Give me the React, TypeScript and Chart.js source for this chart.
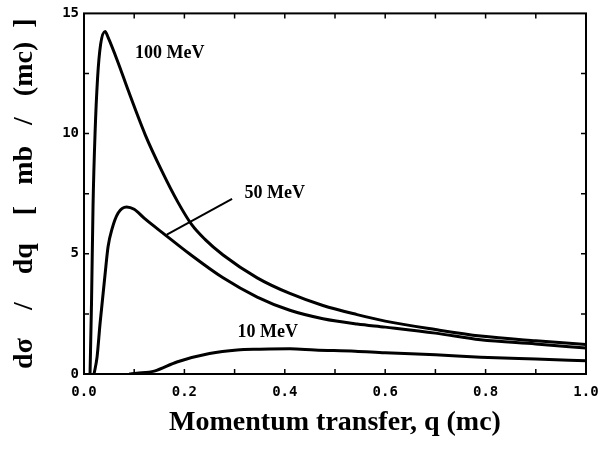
import React, { useEffect, useRef } from "react";
import { Chart, registerables } from "chart.js";

Chart.register(...registerables);

const q100 = [0.012, 0.015, 0.018, 0.022, 0.027, 0.033, 0.042, 0.048, 0.068, 0.088, 0.122, 0.155, 0.187, 0.215, 0.241, 0.277, 0.345, 0.41, 0.476, 0.544, 0.6, 0.7, 0.79, 0.9, 1.0];
const v100 = [0, 3, 7, 10, 12.3, 13.7, 14.25, 14.0, 12.95, 11.8, 9.95, 8.45, 7.15, 6.2, 5.6, 4.95, 4.0, 3.35, 2.85, 2.47, 2.2, 1.85, 1.58, 1.38, 1.23];

const q50 = [0.02, 0.026, 0.032, 0.042, 0.048, 0.056, 0.068, 0.085, 0.1, 0.121, 0.161, 0.21, 0.277, 0.345, 0.41, 0.476, 0.544, 0.6, 0.7, 0.79, 0.9, 1.0];
const v50 = [0, 0.7, 2.1, 4.15, 5.3, 6.05, 6.7, 6.95, 6.85, 6.46, 5.8, 5.0, 4.0, 3.2, 2.65, 2.3, 2.08, 1.95, 1.7, 1.42, 1.25, 1.08];

const q10 = [0.09, 0.105, 0.14, 0.185, 0.25, 0.305, 0.35, 0.41, 0.46, 0.54, 0.6, 0.7, 0.79, 0.9, 1.0];
const v10 = [0, 0.03, 0.12, 0.5, 0.85, 1.0, 1.03, 1.05, 1.0, 0.95, 0.88, 0.8, 0.7, 0.62, 0.55];

const seriesNames = ["100 MeV", "50 MeV", "10 MeV"];
const labelQ = [0.171, 0.38, 0.366];
const labelV = [13.33, 7.53, 1.73];
const leaderQ = [0.165, 0.295];
const leaderV = [5.8, 7.28];

const xMinorTicks = [0.1, 0.2, 0.3, 0.4, 0.5, 0.6, 0.7, 0.8, 0.9];
const yMinorTicks = [2.5, 5, 7.5, 10, 12.5];

const xTitle = "Momentum transfer, q (mc)";
const yTitle = "dσ    /    dq    [   mb   /   (mc)  ]";

const toPts = (xs: number[], ys: number[]) => xs.map((x, i) => ({ x, y: ys[i] }));

const decorPlugin = {
  id: "decor",
  afterDraw(chart: any) {
    const { ctx, chartArea, scales } = chart;
    const { left, right, top, bottom } = chartArea;
    const x = scales.x;
    const y = scales.y;
    ctx.save();
    ctx.strokeStyle = "#000";
    ctx.lineWidth = 2;
    ctx.strokeRect(left, top, right - left, bottom - top);
    ctx.lineWidth = 1.5;
    ctx.beginPath();
    xMinorTicks.forEach((t) => {
      const px = x.getPixelForValue(t);
      ctx.moveTo(px, bottom);
      ctx.lineTo(px, bottom - 5);
      ctx.moveTo(px, top);
      ctx.lineTo(px, top + 5);
    });
    yMinorTicks.forEach((t) => {
      const py = y.getPixelForValue(t);
      ctx.moveTo(left, py);
      ctx.lineTo(left + 5, py);
      ctx.moveTo(right, py);
      ctx.lineTo(right - 5, py);
    });
    ctx.stroke();

    // leader line
    ctx.lineWidth = 2;
    ctx.beginPath();
    ctx.moveTo(x.getPixelForValue(leaderQ[0]), y.getPixelForValue(leaderV[0]));
    ctx.lineTo(x.getPixelForValue(leaderQ[1]), y.getPixelForValue(leaderV[1]));
    ctx.stroke();

    ctx.fillStyle = "#000";
    ctx.font = "bold 18px 'Liberation Serif', 'Times New Roman', serif";
    ctx.textAlign = "center";
    ctx.textBaseline = "middle";
    seriesNames.forEach((n, i) => {
      ctx.fillText(n, x.getPixelForValue(labelQ[i]), y.getPixelForValue(labelV[i]));
    });
    ctx.restore();
  },
};

export default function App() {
  const ref = useRef<HTMLCanvasElement | null>(null);
  useEffect(() => {
    document.body.style.margin = "0";
    const canvas = ref.current;
    if (!canvas) return;
    const lineStyle = {
      borderColor: "#000",
      borderWidth: 3,
      pointRadius: 0,
      showLine: true,
      fill: false,
      cubicInterpolationMode: "monotone" as const,
    };
    const tickFont = { family: "'DejaVu Sans Mono', monospace", size: 14, weight: "bold" as const };
    const chart = new Chart(canvas, {
      type: "scatter",
      data: {
        datasets: [
          { label: seriesNames[0], data: toPts(q100, v100), ...lineStyle },
          { label: seriesNames[1], data: toPts(q50, v50), ...lineStyle },
          { label: seriesNames[2], data: toPts(q10, v10), ...lineStyle },
        ],
      },
      options: {
        animation: false,
        responsive: false,
        devicePixelRatio: 1,
        layout: { padding: { left: 0, right: 17, top: 10, bottom: 0 } },
        plugins: { legend: { display: false }, tooltip: { enabled: false } },
        scales: {
          x: {
            type: "linear",
            min: 0,
            max: 1,
            grid: { display: false, drawTicks: false },
            border: { display: false },
            ticks: {
              stepSize: 0.2,
              padding: 10,
              color: "#000",
              maxRotation: 0,
              font: tickFont,
              callback: (v: any) => Number(v).toFixed(1),
            },
            title: {
              display: true,
              text: xTitle,
              color: "#000",
              font: { family: "'Liberation Serif', 'Times New Roman', serif", size: 28, weight: "bold" },
              padding: { top: 0, bottom: 11 },
            },
            afterFit: (s: any) => {
              s.height = 77;
              s.paddingRight = 0;
              s.paddingLeft = 0;
            },
          },
          y: {
            type: "linear",
            min: 0,
            max: 15,
            grid: { display: false, drawTicks: false },
            border: { display: false },
            ticks: {
              stepSize: 5,
              padding: 5,
              color: "#000",
              font: tickFont,
              callback: (v: any) => String(v),
            },
            title: {
              display: true,
              text: yTitle,
              color: "#000",
              font: { family: "'Liberation Serif', 'Times New Roman', serif", size: 28, weight: "bold" },
              padding: { top: 8, bottom: 0 },
            },
            afterFit: (s: any) => {
              s.width = 84;
            },
          },
        },
      },
      plugins: [decorPlugin],
    });
    return () => chart.destroy();
  }, []);
  return <canvas ref={ref} width={603} height={451} style={{ display: "block" }} />;
}
